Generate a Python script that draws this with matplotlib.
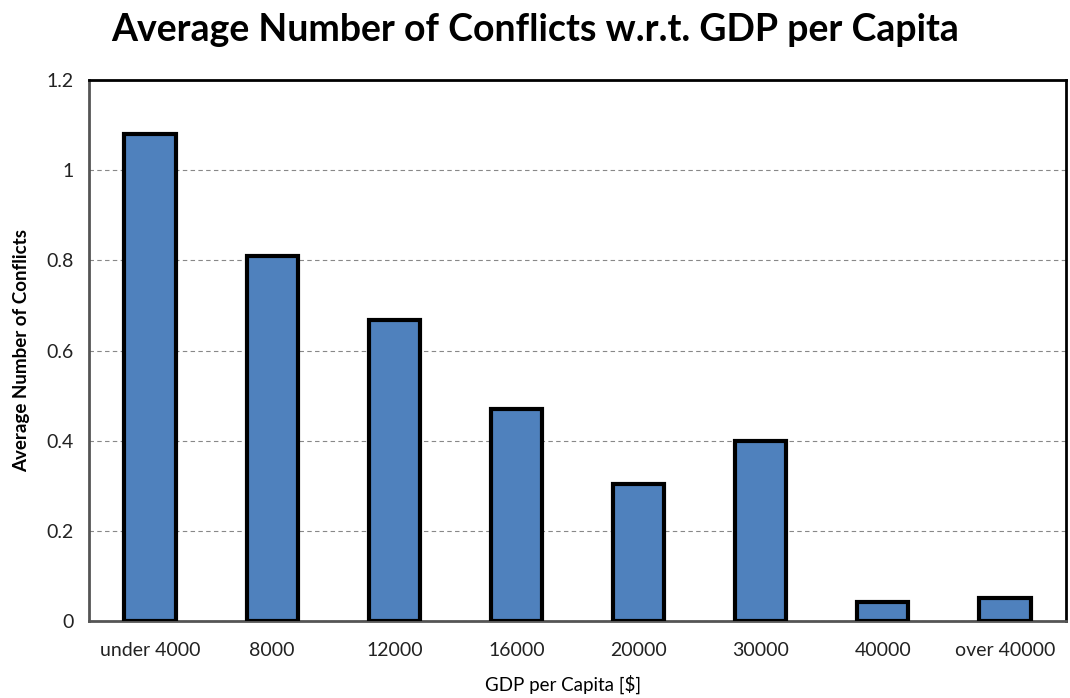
import numpy as np
import matplotlib.pyplot as plt

# Average conflicts per GDP-per-capita bracket
categories = ['under 4000', '8000', '12000', '16000', '20000', '30000', '40000', 'over 40000']
avg_conflicts = [1.08, 0.81, 0.667, 0.47, 0.305, 0.40, 0.043, 0.051]

plt.rcParams['font.family'] = ['Lato', 'DejaVu Sans']

fig = plt.figure(figsize=(10.7, 6.98), dpi=100)
ax = fig.add_axes([0.0832, 0.1103, 0.9131, 0.7751])

x = np.arange(len(categories))
ax.bar(x, avg_conflicts, width=0.42, color='#4F81BD', edgecolor='black',
       linewidth=3, zorder=3)

ax.set_xlim(-0.5, len(categories) - 0.5)
ax.set_ylim(0, 1.2)
ax.set_yticks([0, 0.2, 0.4, 0.6, 0.8, 1.0, 1.2])
ax.set_yticklabels(['0', '0.2', '0.4', '0.6', '0.8', '1', '1.2'])
ax.set_xticks(x)
ax.set_xticklabels(categories)
ax.tick_params(axis='both', length=0, labelsize=14, colors='#222222')
ax.tick_params(axis='x', pad=15)
ax.tick_params(axis='y', pad=11)

ax.grid(True, axis='y', linestyle=(0, (4, 3)), color='#888888', linewidth=0.8, zorder=0)

for side in ['top', 'right']:
    ax.spines[side].set_color('black')
    ax.spines[side].set_linewidth(2)
for side in ['left', 'bottom']:
    ax.spines[side].set_color('#555555')
    ax.spines[side].set_linewidth(2)

ax.set_xlabel('GDP per Capita [$]', fontsize=13.5)
ax.xaxis.set_label_coords(0.485, -0.1)
ax.set_ylabel('Average Number of Conflicts', fontsize=13.5, fontweight='bold', labelpad=12)

fig.text(0.5, 0.957, 'Average Number of Conflicts w.r.t. GDP per Capita',
         ha='center', va='center', fontsize=27, fontweight='bold')

fig.savefig('out.png', dpi=100)
